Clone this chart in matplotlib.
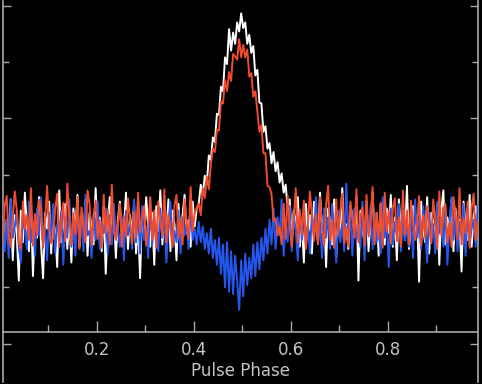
import numpy as np
import matplotlib
matplotlib.use("Agg")
import matplotlib.pyplot as plt
from matplotlib.ticker import MultipleLocator

# ---------------- data (240 phase bins) ----------------
red = [
    # baseline, phase 0.00 - 0.41
    1.05, 0.88, 1.22, 1.31, 0.95, 0.86, 1.12, 1.35, 1.18, 0.90,
    0.84, 1.26, 1.02, 1.14, 0.92, 1.38, 0.87, 1.15, 0.96, 1.28,
    1.20, 0.85, 1.10, 1.40, 1.04, 0.89, 0.94, 1.20, 1.33, 0.86,
    1.08, 1.25, 0.91, 1.42, 1.12, 0.88, 1.16, 0.97, 1.30, 0.84,
    1.21, 1.03, 0.90, 1.36, 1.24, 0.87, 1.14, 1.27, 0.93, 1.09,
    0.85, 1.32, 0.98, 1.19, 0.88, 1.41, 1.02, 0.92, 1.06, 1.24,
    0.86, 1.13, 0.95, 1.29, 1.10, 0.89, 1.17, 0.94, 1.34, 0.99,
    1.12, 1.22, 0.87, 1.04, 1.30, 0.92, 1.18, 0.85, 1.26, 1.08,
    0.96, 1.37, 0.90, 1.15, 1.01, 0.86, 1.23, 1.32, 0.94, 1.11,
    0.88, 1.28, 1.06, 0.93, 1.39, 1.00, 1.16, 1.20,
    # pulse
    1.24, 1.14, 1.38, 1.29, 1.48, 1.37, 1.59, 1.73, 1.70, 1.90,
    1.89, 2.15, 2.13, 2.34, 2.24, 2.41, 2.33, 2.57, 2.55, 2.52,
    2.70, 2.54, 2.65, 2.54, 2.61, 2.37, 2.40, 2.19, 2.24, 2.06,
    1.88, 1.94, 1.69, 1.69, 1.40, 1.39, 1.33, 1.09, 1.11, 0.96,
    1.04,
    # baseline, phase 0.58 - 1.00
    0.88, 1.24, 0.93, 1.31, 1.05, 0.86, 1.11, 1.38, 0.90, 1.19,
    0.97, 1.27, 0.84, 1.06, 1.35, 1.14, 0.91, 1.15, 0.88, 1.30,
    1.01, 0.87, 1.23, 1.40, 0.92, 1.10, 0.85, 1.28, 0.96, 1.17,
    1.33, 0.89, 1.04, 0.86, 1.26, 1.12, 0.94, 1.37, 0.90, 1.13,
    1.21, 0.87, 1.32, 0.95, 1.08, 1.39, 0.88, 1.16, 0.93, 1.25,
    0.85, 1.34, 1.00, 1.18, 0.89, 1.20, 1.29, 0.91, 1.12, 0.86,
    1.36, 0.97, 1.18, 0.88, 1.27, 1.07, 0.92, 1.05, 1.31, 0.87,
    1.14, 0.94, 1.22, 1.02, 0.89, 1.28, 1.10, 0.84, 1.35, 0.96,
    1.19, 1.24, 0.90, 1.07, 0.86, 1.30, 1.15, 0.93, 1.38, 0.88,
    1.11, 0.98, 1.26, 0.85, 1.21, 1.33, 0.92, 1.09, 0.87, 1.17,
    1.04,
]

white = [
    1.02, 1.20, 0.86, 1.10, 0.92, 1.28, 0.74, 1.14, 0.96, 0.56,
    1.18, 0.90, 1.34, 1.04, 0.82, 1.22, 0.60, 1.08, 0.94, 1.30,
    0.88, 0.58, 1.16, 1.02, 1.26, 0.80, 1.12, 0.98, 0.68, 1.36,
    0.90, 1.06, 1.24, 0.84, 1.14, 0.72, 1.20, 1.00, 1.32, 0.86,
    1.10, 0.94, 1.28, 0.78, 1.16, 1.04, 0.88, 1.38, 0.96, 1.12,
    0.82, 1.22, 0.62, 1.06, 1.30, 0.92, 1.18, 0.76, 1.10, 1.26,
    0.90, 1.02, 1.34, 0.84, 1.14, 0.98, 1.24, 0.80, 1.08, 0.58,
    1.20, 0.94, 1.30, 1.04, 0.86, 1.16, 0.70, 1.22, 1.00, 1.36,
    0.88, 1.12, 0.96, 1.28, 0.82, 1.18, 1.06, 0.74, 1.24, 0.92,
    1.14, 1.32, 0.98, 1.10, 0.86, 1.26, 1.04, 1.20,
    # pulse
    1.24, 1.41, 1.32, 1.49, 1.42, 1.67, 1.63, 1.83, 1.79, 2.04,
    2.03, 2.28, 2.24, 2.54, 2.48, 2.79, 2.60, 2.76, 2.66, 2.85,
    2.77, 2.93, 2.80, 2.85, 2.66, 2.74, 2.58, 2.64, 2.38, 2.43,
    2.14, 2.13, 1.88, 1.93, 1.73, 1.78, 1.60, 1.70, 1.53, 1.61,
    1.43, 1.51, 1.34, 1.41, 1.20, 1.28,
    # baseline
    0.94, 1.18, 1.02, 1.30, 0.86, 1.10, 0.72, 1.24, 0.96, 1.14,
    0.80, 1.26, 1.04, 0.90, 1.34, 0.98, 1.16, 0.68, 1.20, 1.08,
    0.88, 1.28, 0.76, 1.12, 1.00, 1.38, 0.92, 1.06, 0.84, 1.22,
    1.14, 0.96, 1.30, 0.56, 1.18, 1.02, 0.90, 1.26, 0.82, 1.10,
    1.34, 0.94, 1.16, 0.78, 1.24, 1.04, 0.88, 1.20, 0.98, 1.32,
    0.86, 1.12, 0.74, 1.28, 1.00, 1.18, 0.92, 1.40, 0.84, 1.06,
    1.22, 0.96, 1.14, 0.55, 1.26, 1.02, 0.90, 1.30, 0.80, 1.16,
    1.08, 0.94, 1.24, 0.70, 1.18, 1.36, 0.88, 1.12, 1.00, 1.28,
    0.82, 1.20, 0.96, 1.10, 0.64, 1.26, 1.04, 0.92, 1.32, 0.86,
    1.14, 1.22, 0.98, 1.08, 0.90, 1.18,
]

blue = [
    0.98, 1.22, 0.82, 1.10, 0.76, 1.28, 0.94, 1.04, 1.18, 0.86,
    0.72, 1.14, 1.00, 0.84, 1.26, 0.90, 1.08, 0.78, 1.20, 0.96,
    1.30, 0.88, 1.02, 0.74, 1.16, 0.92, 1.24, 0.80, 1.06, 0.98,
    1.18, 0.70, 1.12, 0.94, 1.28, 0.86, 1.04, 0.78, 1.22, 0.90,
    1.10, 0.82, 1.32, 0.96, 1.00, 0.76, 1.16, 0.92, 1.26, 0.84,
    1.08, 0.98, 1.20, 0.80, 1.14, 0.88, 1.24, 0.94, 1.02, 0.86,
    1.12, 0.74, 1.18, 0.96, 1.06, 0.84, 1.28, 0.90, 1.16, 0.80,
    1.22, 0.92, 1.04, 0.76, 1.30, 0.88, 1.10, 0.98, 0.82, 1.20,
    0.94, 1.14, 0.72, 1.08, 1.26, 0.86, 1.00, 0.90, 1.18, 0.80,
    1.12, 0.96, 1.06, 0.84, 1.20, 0.92, 1.02, 0.88,
    # dip
    1.08, 0.90, 1.04, 0.84, 0.98, 0.80, 1.02, 0.76, 0.92, 0.70,
    0.94, 0.62, 0.88, 0.50, 0.90, 0.46, 0.82, 0.44, 0.78, 0.56,
    0.30, 0.74, 0.42, 0.80, 0.52, 0.76, 0.58, 0.88, 0.60, 0.90,
    0.66, 0.94, 0.74, 1.02, 0.80, 1.10, 0.88,
    # baseline
    1.20, 0.84, 1.12, 0.96, 1.28, 0.78, 1.06, 0.90, 1.22, 0.82,
    1.14, 1.00, 0.74, 1.18, 0.92, 1.26, 0.86, 1.04, 0.80, 1.16,
    0.96, 1.30, 0.88, 1.08, 0.76, 1.20, 0.94, 1.12, 0.84, 1.24,
    1.00, 0.72, 1.18, 0.90, 1.06, 0.82, 1.42, 0.96, 1.14, 0.78,
    1.20, 0.92, 1.02, 0.86, 1.26, 0.74, 1.10, 0.98, 1.22, 0.84,
    1.16, 0.90, 1.04, 0.80, 1.30, 0.94, 1.12, 0.68, 1.20, 0.88,
    1.08, 0.96, 1.24, 0.82, 1.14, 0.92, 1.02, 0.86, 1.18, 0.76,
    1.28, 0.94, 1.10, 0.84, 1.22, 1.00, 0.72, 1.16, 0.90, 1.06,
    0.80, 1.26, 0.98, 1.12, 0.86, 1.20, 0.70, 1.04, 1.30, 0.92,
    1.14, 0.82, 1.08, 0.96, 1.24, 0.78, 1.18, 0.88, 1.02, 1.10,
    0.86, 1.22, 0.94, 1.06, 0.90,
]

x_major = [0.2, 0.4, 0.6, 0.8]
x_labels = ["0.2", "0.4", "0.6", "0.8"]
x_label = "Pulse Phase"


def centres(values):
    n = len(values)
    return (np.arange(n) + 0.5) / n


# ---------------- figure ----------------
W, H = 482, 384
fig = plt.figure(figsize=(W / 100, H / 100), dpi=100, facecolor="black")
ax = fig.add_axes([3 / W, 2 / H, 475 / W, 381 / H])
ax.set_facecolor("black")

lw = 1.4
ax.plot(centres(white), white, color="#ffffff", lw=lw, zorder=2)
ax.plot(centres(blue), blue, color="#2457f0", lw=lw, zorder=3)
ax.plot(centres(red), red, color="#f04b2b", lw=lw, zorder=4)

ax.set_xlim(0.007, 0.986)
ax.set_ylim(-0.34, 3.04)

axis_col = "#a8a8a8"
text_col = "#c4c4c4"
for s in ["left", "right", "bottom"]:
    ax.spines[s].set_color(axis_col)
    ax.spines[s].set_linewidth(1.2)
ax.spines["top"].set_visible(False)
ax.spines["bottom"].set_position(("data", 0.107))

ax.set_xticks(x_major)
ax.set_xticklabels(x_labels)
ax.xaxis.set_minor_locator(MultipleLocator(0.1))
ax.yaxis.set_major_locator(MultipleLocator(1.0))
ax.yaxis.set_minor_locator(MultipleLocator(0.5))
ax.tick_params(axis="x", which="major", direction="in", length=8, width=1.0,
               color=axis_col, labelcolor=text_col, labelsize=12, pad=7)
ax.tick_params(axis="x", which="minor", direction="in", length=5, width=1.0,
               color=axis_col)
ax.tick_params(axis="y", which="both", direction="in", left=True, right=True,
               labelleft=False, labelright=False, color=axis_col, width=1.0)
ax.tick_params(axis="y", which="major", length=6)
ax.tick_params(axis="y", which="minor", length=4)
ax.xaxis.set_ticks_position("bottom")

ax.set_xlabel(x_label, color=text_col, fontsize=12, labelpad=2)

fig.savefig("out.png", dpi=100, facecolor="black")
